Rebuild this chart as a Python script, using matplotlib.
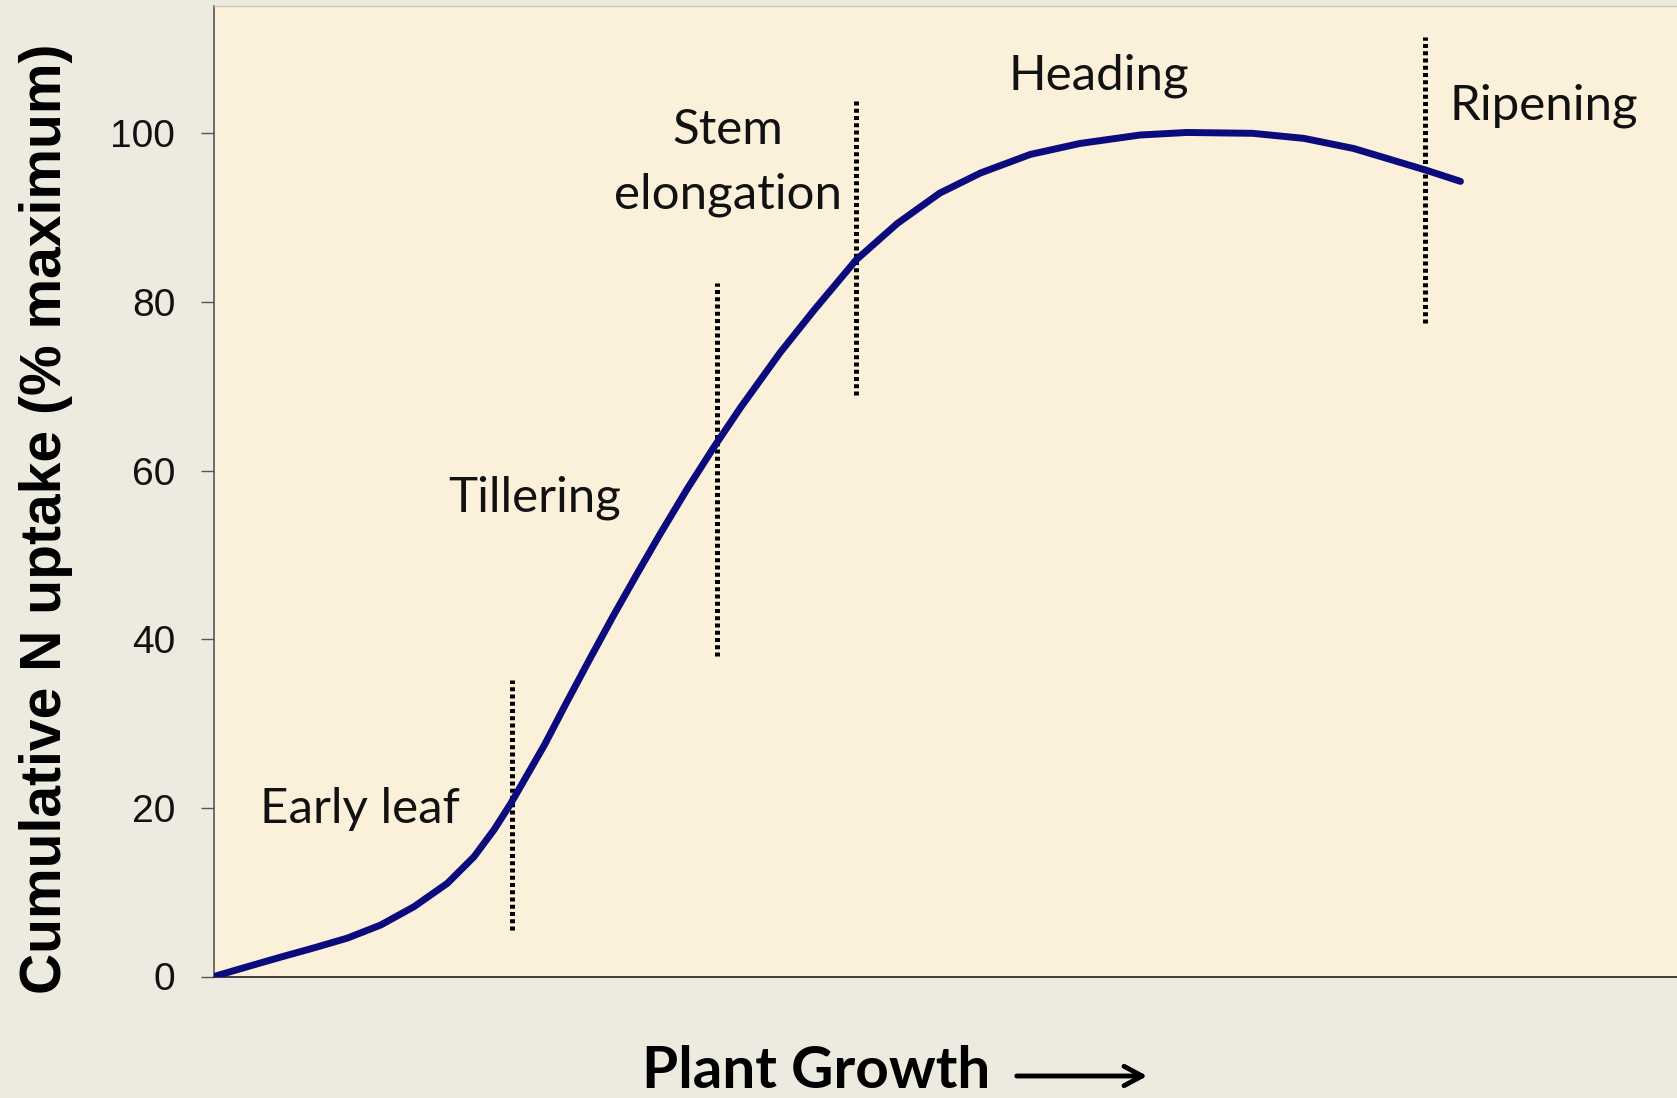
import matplotlib
matplotlib.use("Agg")
import matplotlib.pyplot as plt
from matplotlib.patches import FancyArrowPatch

# ==================================================
# データ
# ==================================================
growth = [0, 2.28, 4.56, 6.84, 9.11, 11.39, 13.67, 15.95, 17.77, 19.14, 20.28,
          22.6, 24.1, 25.7, 27.3, 28.9, 30.5, 32.3, 34.1, 36.0, 38.7, 41.0,
          43.9, 46.7, 49.6, 52.4, 55.8, 59.2, 63.3, 66.5, 71.0, 74.5, 77.9,
          80.6, 82.9, 85.2]
uptake = [0, 1.16, 2.3, 3.4, 4.55, 6.1, 8.28, 11.05, 14.2, 17.4, 20.5,
          27.5, 32.5, 37.7, 42.8, 47.7, 52.5, 57.7, 62.6, 67.5, 74.0, 79.0,
          85.0, 89.3, 92.9, 95.3, 97.5, 98.8, 99.8, 100.1, 100.0, 99.4, 98.2,
          96.8, 95.6, 94.3]

# stage boundaries: x, y bottom, y top
bound_x = [20.4, 34.35, 43.9, 82.8]
bound_y0 = [5.5, 38.0, 69.0, 77.5]
bound_y1 = [35.2, 82.2, 104.2, 111.4]

# stage labels (baseline position)
stage_names = ["Early leaf", "Tillering", "Stem", "elongation", "Heading", "Ripening"]
stage_x = [10.0, 21.9, 35.1, 35.1, 60.5, 90.9]
stage_y = [18.2, 55.1, 98.7, 91.1, 105.2, 101.6]

yticks = [0, 20, 40, 60, 80, 100]

# ==================================================
# 描画
# ==================================================
fig = plt.figure(figsize=(16.77, 10.98), dpi=100, facecolor="#EDEBE0")
ax = fig.add_axes([214 / 1677, 1 - 976.5 / 1098, 1 - 214 / 1677, (976.5 - 6) / 1098])
ax.set_facecolor("#FBF1DA")

ax.plot(growth, uptake, color="#0b0b7d", lw=5, solid_capstyle="round",
        solid_joinstyle="round", zorder=3)

for x, y0, y1 in zip(bound_x, bound_y0, bound_y1):
    ax.plot([x, x], [y0, y1], color="black", lw=3.6, dashes=(0.8, 0.65),
            dash_capstyle="butt", zorder=2)

for name, x, y in zip(stage_names, stage_x, stage_y):
    ax.text(x, y, name, ha="center", va="baseline", fontsize=35.5,
            family="Lato", color="#111111")

ax.set_xlim(0, 100)
ax.set_ylim(0, 115.1)
ax.set_xticks([])
ax.set_yticks(yticks)
ax.tick_params(axis="y", direction="out", length=9.4, width=1, color="#555555",
               pad=18.5, labelsize=28, labelcolor="#111111")
for lab in ax.get_yticklabels():
    lab.set_family("Liberation Sans")

ax.spines["right"].set_visible(False)
ax.spines["top"].set_color("#C8C4B8")
ax.spines["top"].set_linewidth(1)
ax.spines["left"].set_color("#555555")
ax.spines["left"].set_linewidth(1.2)
ax.spines["bottom"].set_color("#222222")
ax.spines["bottom"].set_linewidth(1.2)

# 軸ラベル
fig.text(46 / 1677, 1 - 518.5 / 1098, "Cumulative N uptake (% maximum)",
         rotation=90, ha="center", va="center", fontsize=41, fontweight="bold",
         family="Liberation Sans", color="black")
fig.text(641.7 / 1677, 1 - 1088 / 1098, "Plant Growth", ha="left", va="baseline",
         fontsize=42, fontweight="bold", family="Lato", color="black")
fig.add_artist(FancyArrowPatch(
    (1014 / 1677, 1 - 1076 / 1098), (1150 / 1677, 1 - 1076 / 1098),
    transform=fig.transFigure, arrowstyle="->,head_length=13,head_width=7",
    mutation_scale=1, lw=3.5, color="black"))

fig.savefig("out.png", dpi=100, facecolor=fig.get_facecolor())
